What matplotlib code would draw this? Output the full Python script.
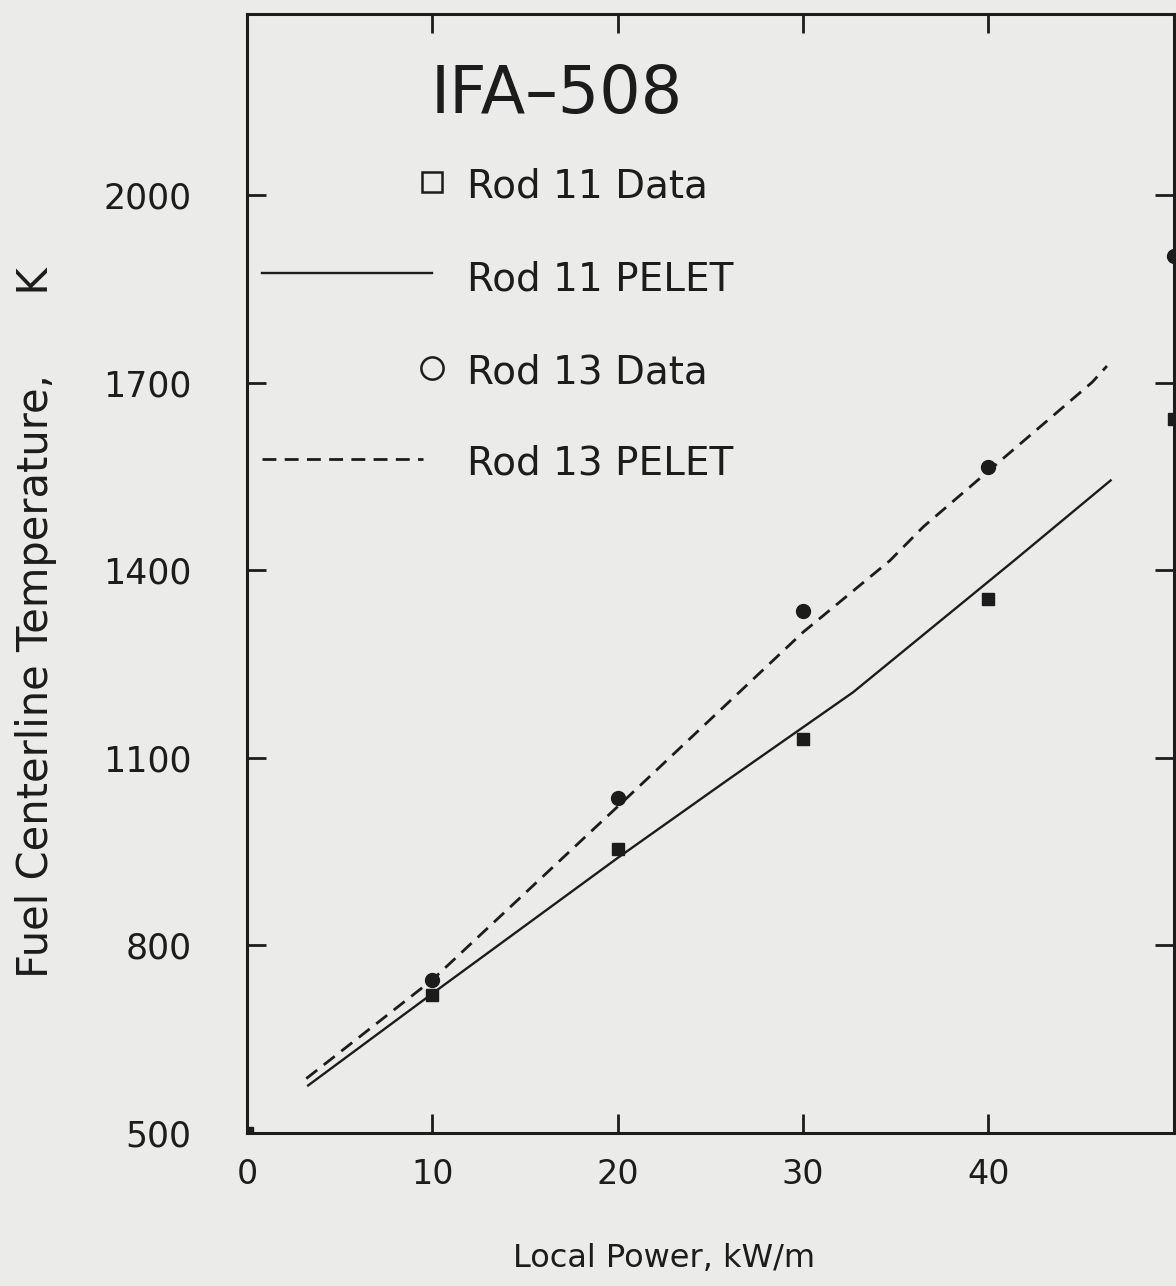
import matplotlib
matplotlib.use('Agg')
import matplotlib.pyplot as plt
from matplotlib.lines import Line2D

# measured centerline temperatures (K) vs local power (kW/m)
power_data = [0, 10, 20, 30, 40, 50]
rod11_data = [500, 720, 955, 1131, 1354, 1643]
power_data13 = [10, 20, 30, 40, 50]
rod13_data = [745, 1036, 1335, 1565, 1903]

# PELET code predictions
rod11_pelet_x = [3.3, 10, 20, 25.9, 30, 32.7, 41.4, 46.6]
rod11_pelet_y = [576, 723, 940, 1064, 1149, 1205, 1416, 1544]
rod13_pelet_x = [3.2, 10, 20.5, 30, 34.7, 36.5, 45.6, 46.4]
rod13_pelet_y = [587, 745, 1036, 1301, 1416, 1470, 1701, 1727]

xticks = [0, 10, 20, 30, 40]
yticks = [500, 800, 1100, 1400, 1700, 2000]

font = ['DejaVu Sans']
ink = '#1c1c1c'
paper = '#ebebe9'
dashes = (0, (5, 3))

fig = plt.figure(figsize=(11.76, 12.86), dpi=100)
fig.patch.set_facecolor(paper)
ax = fig.add_axes([0.210, 0.119, 0.788, 0.870])
ax.set_facecolor(paper)

ax.plot(rod11_pelet_x, rod11_pelet_y, color=ink, lw=1.7)
ax.plot(rod13_pelet_x, rod13_pelet_y, color=ink, lw=2.0, linestyle=dashes)
ax.plot(power_data, rod11_data, 's', color=ink, ms=8.5)
ax.plot(power_data13, rod13_data, 'o', color=ink, ms=10)

ax.set_xlim(0, 50)
ax.set_ylim(500, 2290)
ax.set_xticks(xticks)
ax.set_yticks(yticks)
ax.tick_params(axis='both', direction='in', length=14, width=2, color=ink,
               top=True, right=True, labelcolor=ink)
ax.tick_params(axis='y', pad=40, labelsize=25)
ax.tick_params(axis='x', pad=18, labelsize=24)
for sp in ax.spines.values():
    sp.set_linewidth(2.2)
    sp.set_color(ink)

fig.text(0.565, 0.021, 'Local Power, kW/m', family=font, fontsize=23,
         color=ink, ha='center', va='center')
fig.text(0.031, 0.516, 'Fuel Centerline Temperature,      K', family=font,
         fontsize=30, color=ink, rotation=90, ha='center', va='center')

ax.text(0.198, 0.928, 'IFA\u2013508', transform=ax.transAxes, family=font,
        fontsize=47, color=ink, ha='left', va='center')

# legend drawn by hand to keep the plotter layout
tx = 0.237
rows = [0.846, 0.763, 0.680, 0.598]
labels = ['Rod 11 Data', 'Rod 11 PELET', 'Rod 13 Data', 'Rod 13 PELET']
for r, t in zip(rows, labels):
    ax.text(tx, r, t, transform=ax.transAxes, family=font, fontsize=28,
            color=ink, ha='left', va='center')
ax.add_line(Line2D([0.1996], [rows[0] + 0.004], marker='s', ms=15, mfc='none',
                   mec=ink, mew=1.8, transform=ax.transAxes))
ax.add_line(Line2D([0.0162, 0.1996], [rows[1] + 0.006, rows[1] + 0.006], color=ink,
                   lw=1.7, transform=ax.transAxes))
ax.add_line(Line2D([0.1996], [rows[2] + 0.004], marker='o', ms=16, mfc='none',
                   mec=ink, mew=1.8, transform=ax.transAxes))
ax.add_line(Line2D([0.0162, 0.19], [rows[3] + 0.004, rows[3] + 0.004], color=ink,
                   lw=2.0, linestyle=dashes, transform=ax.transAxes))

fig.savefig('out.png', dpi=100, facecolor=paper)
